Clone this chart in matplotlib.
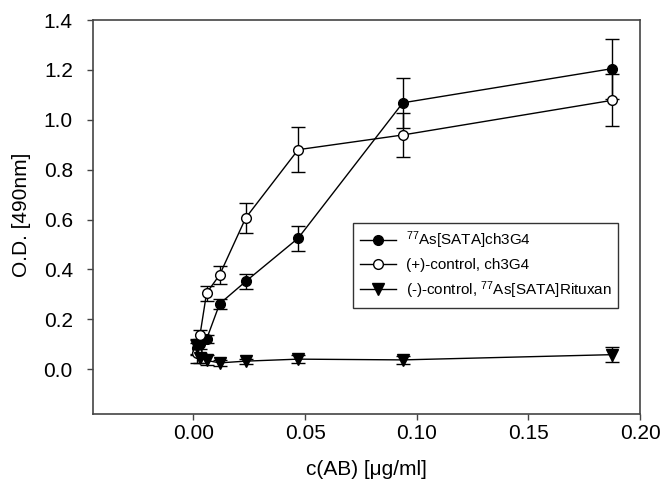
import matplotlib
matplotlib.use("Agg")
import matplotlib.pyplot as plt

plt.rcParams["font.family"] = ["Liberation Sans", "DejaVu Sans"]
plt.rcParams["mathtext.fontset"] = "custom"
plt.rcParams["mathtext.rm"] = "Liberation Sans"
plt.rcParams["mathtext.it"] = "Liberation Sans"

# antibody concentration (ug/ml), dilution series
conc = [0.1875, 0.09375, 0.046875, 0.0234375, 0.01171875,
        0.005859375, 0.0029296875, 0.00146484375]

as_ch3g4 = [1.205, 1.068, 0.525, 0.352, 0.262, 0.120, 0.100, 0.085]
as_ch3g4_err = [0.12, 0.10, 0.05, 0.03, 0.02, 0.015, 0.02, 0.03]

pos_ctrl = [1.078, 0.939, 0.880, 0.607, 0.378, 0.305, 0.138, 0.065]
pos_ctrl_err = [0.105, 0.09, 0.09, 0.06, 0.035, 0.03, 0.02, 0.04]

neg_ctrl = [0.058, 0.037, 0.040, 0.032, 0.025, 0.035, 0.045, 0.09]
neg_ctrl_err = [0.03, 0.015, 0.015, 0.01, 0.012, 0.02, 0.02, 0.03]

labels = [r"$^{77}$As[SATA]ch3G4",
          "(+)-control, ch3G4",
          r"(-)-control, $^{77}$As[SATA]Rituxan"]

xticks = [0.00, 0.05, 0.10, 0.15, 0.20]
yticks = [0.0, 0.2, 0.4, 0.6, 0.8, 1.0, 1.2, 1.4]

fig = plt.figure(figsize=(6.62, 4.79), dpi=100)
ax = fig.add_axes([0.1405, 0.1357, 0.8263, 0.8225])

common = dict(color="black", lw=1.0, capsize=5, elinewidth=1.0,
              capthick=1.0, mec="black", mew=1.0)
e1 = ax.errorbar(conc, as_ch3g4, yerr=as_ch3g4_err, marker="o", ms=7,
                 mfc="black", **common)
e2 = ax.errorbar(conc, pos_ctrl, yerr=pos_ctrl_err, marker="o", ms=7,
                 mfc="white", **common)
e3 = ax.errorbar(conc, neg_ctrl, yerr=neg_ctrl_err, marker="v", ms=8,
                 mfc="black", **common)

ax.set_xlim(-0.045, 0.2)
ax.set_ylim(-0.18, 1.4)
ax.set_xticks(xticks)
ax.set_xticklabels(["%.2f" % t for t in xticks])
ax.set_yticks(yticks)
ax.set_yticklabels(["%.1f" % t for t in yticks])
ax.tick_params(direction="out", length=4.5, width=1, color="#444444",
               labelsize=15, top=False, right=False)
ax.tick_params(axis="x", pad=3)
ax.tick_params(axis="y", pad=10)
for s in ax.spines.values():
    s.set_color("#444444")
    s.set_linewidth(1.2)

ax.set_xlabel("c(AB) [\u03bcg/ml]", fontsize=15)
ax.set_ylabel("O.D. [490nm]", fontsize=15)
ax.xaxis.set_label_coords(0.5, -0.142)
ax.xaxis.label.set_va("center")
ax.yaxis.set_label_coords(-0.130, 0.505)
ax.yaxis.label.set_va("center")

leg = ax.legend([e1[0], e2[0], e3[0]], labels, loc="upper left",
                bbox_to_anchor=(0.475, 0.485), fontsize=11,
                frameon=True, fancybox=False, edgecolor="black",
                borderpad=0.45, handlelength=2.35, handletextpad=0.65,
                labelspacing=0.45, borderaxespad=0)
leg.get_frame().set_linewidth(1.0)

fig.savefig("out.png", dpi=100)
